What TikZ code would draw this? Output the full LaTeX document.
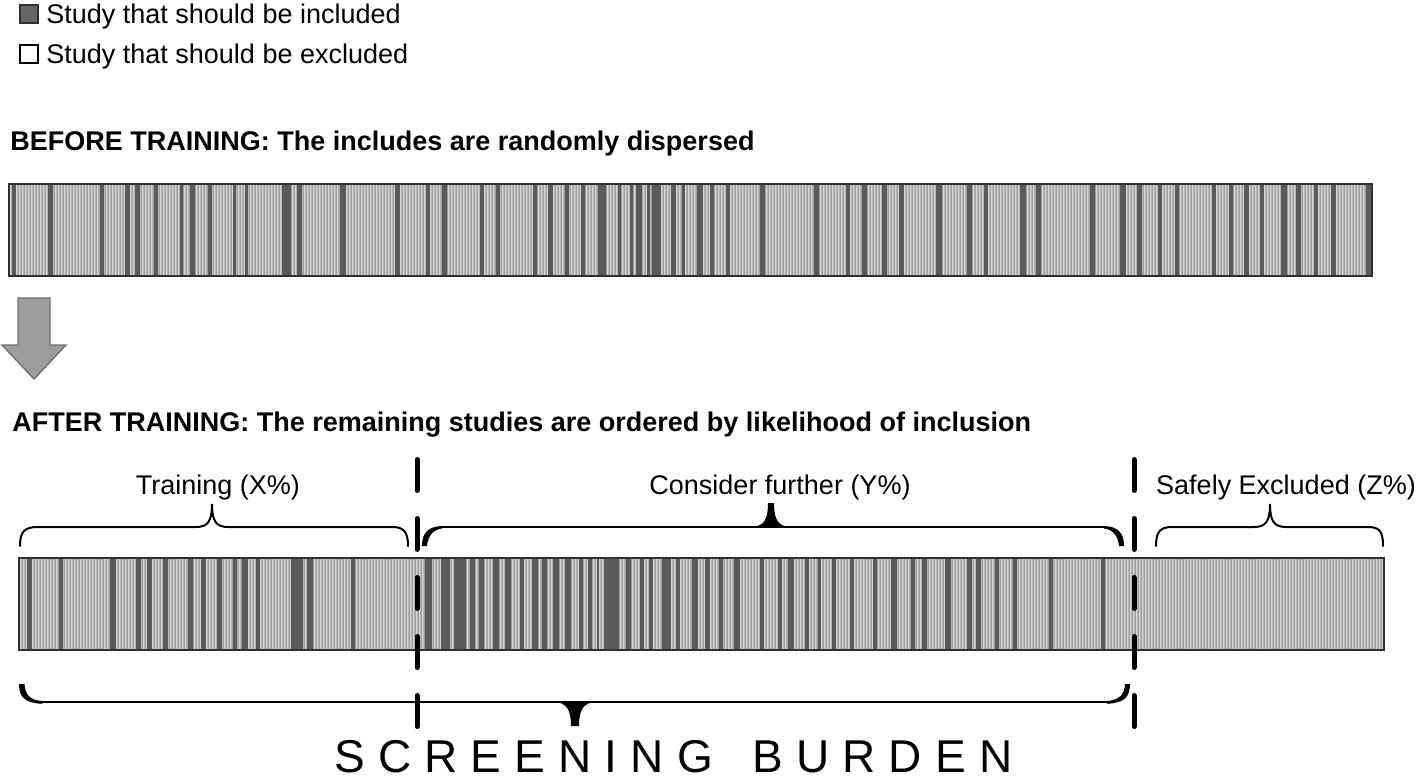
\documentclass[tikz,border=0pt]{standalone}
\usepackage{fontspec}
\setmainfont{Liberation Sans}
\definecolor{texbase}{HTML}{B6B6B6}
\definecolor{texlight}{HTML}{D6D6D6}
\definecolor{texdark}{HTML}{9E9E9E}
\definecolor{incgray}{HTML}{5A5A5A}
\definecolor{framegray}{HTML}{303030}
\definecolor{arrowfill}{HTML}{9C9C9C}
\definecolor{arrowedge}{HTML}{707070}
\definecolor{legdark}{HTML}{666666}
\begin{document}
\begin{tikzpicture}[x=0.5pt,y=-0.5pt,
  lbl/.style={font=\fontsize{13.5}{16}\selectfont, inner sep=0pt, anchor=base},
  legtxt/.style={font=\fontsize{13.5}{16}\selectfont, inner sep=0pt, anchor=base west},
  ttl/.style={font=\bfseries\fontsize{13.5}{16}\selectfont, inner sep=0pt, anchor=base west},
  texA/.style={line width=0.5pt, draw=texlight},
  texB/.style={line width=0.35pt, draw=texdark},
  inc/.style={fill=incgray},
  barframe/.style={draw=framegray, line width=1pt},
  cutline/.style={line width=2.5pt, line cap=round, dash pattern=on 15.5pt off 14pt},
  thinbrace/.style={line width=1pt, line cap=round},
  boldpart/.style={fill=black},
]
\useasboundingbox (0,0) rectangle (1418,780);

% ---------- legend ----------
\filldraw[fill=legdark, draw=framegray, line width=0.6pt] (20,5) rectangle (38,23);
\filldraw[fill=white, draw=black, line width=0.6pt] (20,45) rectangle (38,63);
\node[legtxt] (leginc) at (46,24) {Study that should be included};
\node[legtxt] (legexc) at (46,64) {Study that should be excluded};

% ---------- titles ----------
\node[ttl] (before) at (10,151) {BEFORE TRAINING: The includes are randomly dispersed};
\node[ttl] (after) at (12,431) {AFTER TRAINING: The remaining studies are ordered by likelihood of inclusion};

% ---------- top bar ----------
\fill[texbase] (9,184) rectangle (1372,276);
\foreach \k in {0,...,453} {
  \draw[texA] ({10.5+3*\k},185) -- ({10.5+3*\k},275);
  \draw[texB] ({9.3+3*\k},185) -- ({9.3+3*\k},275);
}
\foreach \a/\b in {12/16,48/53,100/104,125/130,135/140,154/158,180/183,190/195,208/212,233/236,245/248,282/291,297/302,340/346,395/400,426/430,442/447,480/484,496/500,533/537,548/553,565/569,581/585,598/606,618/621,630/633,636/642,647/650,652/661,671/676,682/685,697/703,710/714,726/730,760/765,814/819,846/850,862/867,882/887,899/904,936/942,967/972,984/988,1020/1026,1036/1041,1090/1095,1120/1126,1137/1142,1158/1162,1175/1179,1212/1216,1229/1233,1244/1249,1260/1264,1281/1287,1296/1301,1314/1318,1331/1336,1366/1372}
  \fill[inc] (\a,185) rectangle (\b,275);
\draw[barframe] (9,184) rectangle (1372,276);
\coordinate (bar1) at (690,230);

% ---------- block arrow ----------
\filldraw[fill=arrowfill, draw=arrowedge, line width=0.7pt]
  (18,298) -- (50,298) -- (50,345) -- (66,345) -- (34,379) -- (2,345) -- (18,345) -- cycle;

% ---------- bottom bar ----------
\fill[texbase] (19,558) rectangle (1384,650);
\foreach \k in {0,...,454} {
  \draw[texA] ({20.5+3*\k},559) -- ({20.5+3*\k},649);
  \draw[texB] ({19.3+3*\k},559) -- ({19.3+3*\k},649);
}
\foreach \a/\b in {27/32,59/63,110/116,136/141,147/152,163/168,188/193,201/206,217/222,233/237,242/248,256/260,291/303,307/313,351/355,425/432,441/450,454/466,470/475,479/484,493/499,505/511,520/524,532/538,542/547,553/559,565/571,579/583,588/592,597/599,604/619,626/631,640/644,649/653,662/671,676/680,692/698,705/710,719/723,734/740,760/764,778/782,788/794,805/809,818/821,832/836,850/854,873/877,891/897,911/915,922/927,945/951,967/972,976/981,995/999,1013/1017,1049/1053,1101/1105}
  \fill[inc] (\a,559) rectangle (\b,649);
\draw[barframe] (19,558) rectangle (1384,650);

% ---------- cut lines ----------
\coordinate (cutAtop) at (417,459.5);
\coordinate (cutAbot) at (417,729);
\coordinate (cutBtop) at (1134,459.5);
\coordinate (cutBbot) at (1134,729);
\draw[cutline] (cutAtop) -- (cutAbot);
\draw[cutline] (cutBtop) -- (cutBbot);

% ---------- top braces ----------
% Training
\draw[thinbrace] (20,546) .. controls (20,532) and (24,527) .. (38,527) -- (196,527)
  .. controls (208,527) and (212,521) .. (212,504)
  .. controls (212,521) and (216,527) .. (228,527) -- (392,527)
  .. controls (404,527) and (408,532) .. (408,546);
\node[lbl] (lblX) at (218,494.5) {Training (X\%)};

% Consider further
\draw[line width=1pt] (440,527) -- (1106,527);
\fill[boldpart] (422,546) .. controls (422,533) and (428,526.5) .. (442,526)
  -- (442,528.5) .. controls (433,529.5) and (428,536) .. (427,546) -- cycle;
\fill[boldpart] (1124,546) .. controls (1124,533) and (1118,526.5) .. (1104,526)
  -- (1104,528.5) .. controls (1113,529.5) and (1118,536) .. (1119,546) -- cycle;
\fill[boldpart] (750,527.5) .. controls (764,526.5) and (768,520) .. (768,503)
  -- (774,503) .. controls (774,520) and (778,526.5) .. (792,527.5) -- cycle;
\node[lbl] (lblY) at (780,494.5) {Consider further (Y\%)};

% Safely excluded
\draw[thinbrace] (1156,546) .. controls (1156,532) and (1160,527) .. (1172,527) -- (1254,527)
  .. controls (1266,527) and (1270,521) .. (1270,504)
  .. controls (1270,521) and (1274,527) .. (1286,527) -- (1368,527)
  .. controls (1380,527) and (1383,532) .. (1383,546);
\node[lbl] (lblZ) at (1286,494.5) {Safely Excluded (Z\%)};

% ---------- bottom brace ----------
\draw[line width=1pt] (40,702.3) -- (1109,702.3);
\fill[boldpart] (19,684) .. controls (19,697) and (25,703) .. (42,703.8)
  -- (42,701) .. controls (30,700) and (25,695) .. (24.5,684) -- cycle;
\fill[boldpart] (1130,684) .. controls (1130,697) and (1124,703) .. (1107,703.8)
  -- (1107,701) .. controls (1119,700) and (1124.5,695) .. (1125,684) -- cycle;
\fill[boldpart] (553,701.5) .. controls (567,702.5) and (571,710) .. (571,726)
  -- (579,726) .. controls (579,710) and (583,702.5) .. (597,701.5) -- cycle;

\node[inner sep=0pt, anchor=base west, font=\fontsize{23}{27}\selectfont] (burden) at (334,772)
  {\hbox to 339pt{S\hfill C\hfill R\hfill E\hfill E\hfill N\hfill I\hfill N\hfill G\hfill\hfill\hfill B\hfill U\hfill R\hfill D\hfill E\hfill N}};
\end{tikzpicture}
\end{document}
